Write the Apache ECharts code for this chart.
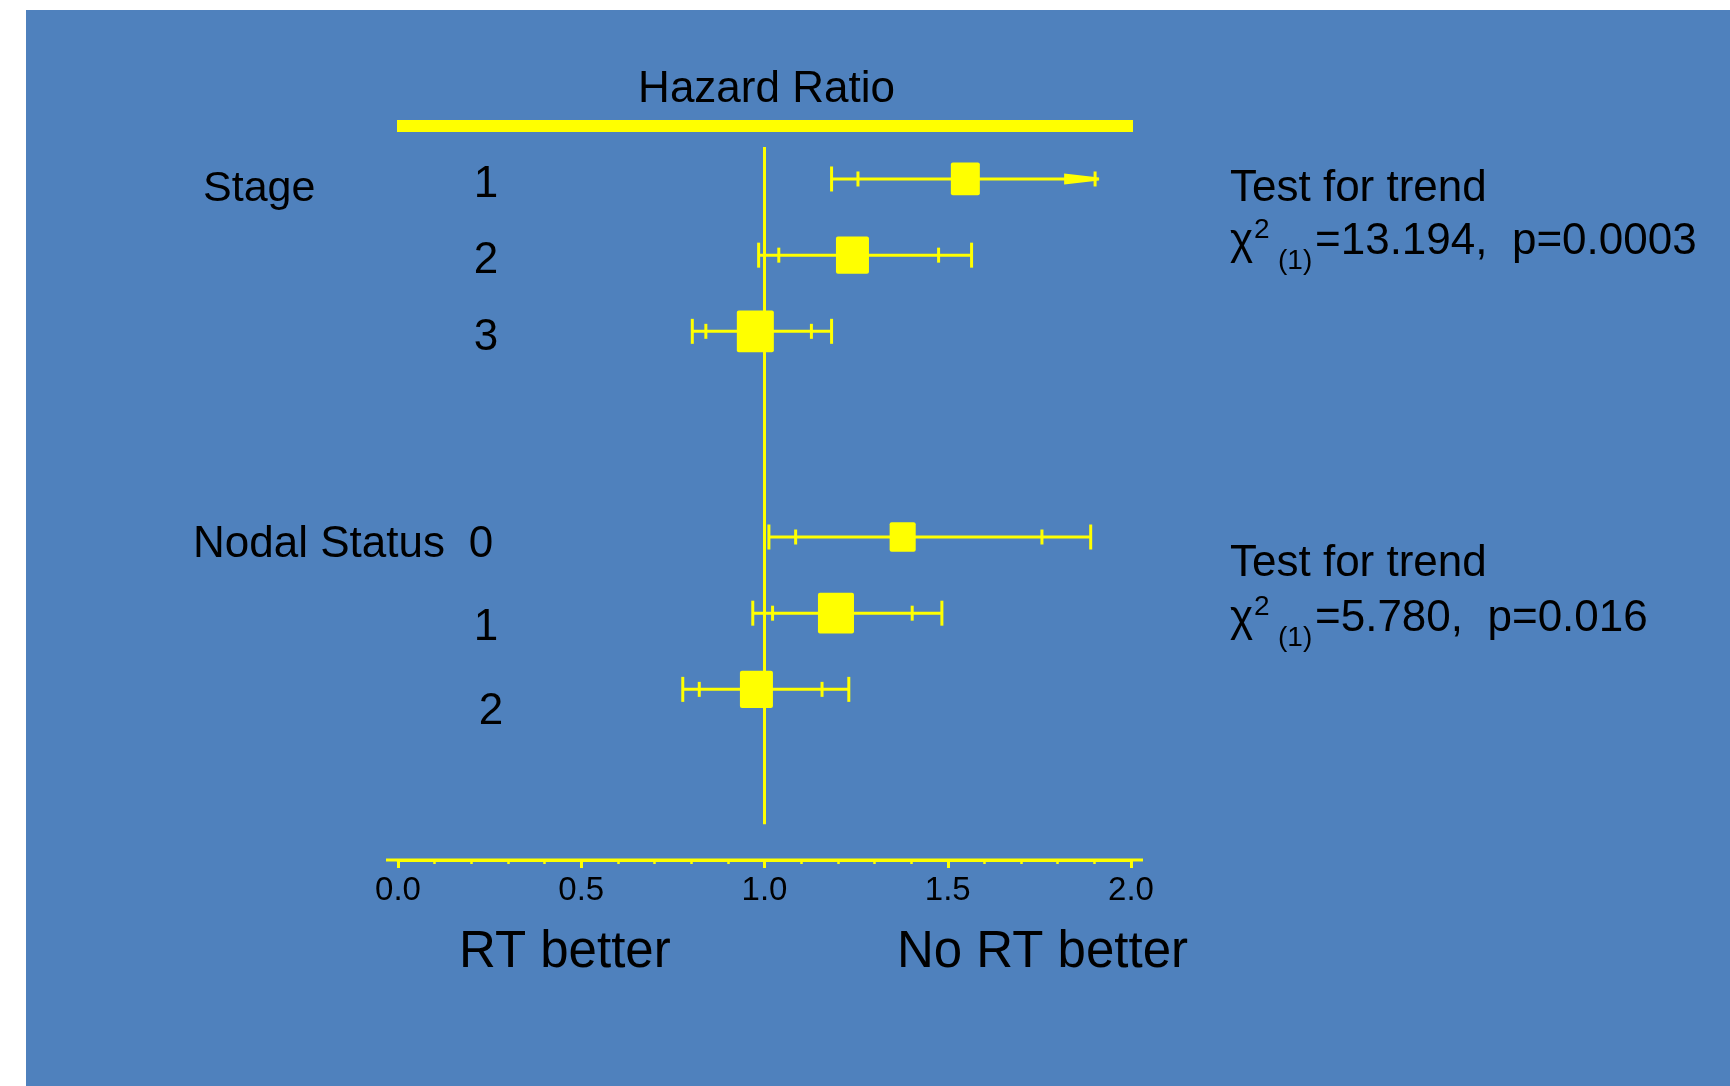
<!DOCTYPE html>
<html>
<head>
<meta charset="utf-8">
<title>Hazard Ratio</title>
<script src="https://cdn.jsdelivr.net/npm/echarts@6/dist/echarts.min.js"></script>
<style>
  html, body { margin: 0; padding: 0; background: #ffffff; }
  #chart { width: 1730px; height: 1086px; }
</style>
</head>
<body>
<div id="chart"></div>
<script>
// Subgroup hazard ratios (No RT vs RT) with 95% and 99% confidence limits
const groupNames = ['Stage', 'Nodal Status'];
const rowLabels = ['1', '2', '3', '0', '1', '2'];
const rowPos = [1, 2, 3, 5.7, 6.7, 7.7];
const hazardRatio = [1.548, 1.240, 0.975, 1.377, 1.195, 0.978];
const ci95Low  = [1.255, 1.039, 0.840, 1.085, 1.022, 0.822];
const ci95High = [1.902, 1.475, 1.128, 1.757, 1.403, 1.157];
const ci99Low  = [1.183, 0.984, 0.803, 1.012, 0.968, 0.777];
const ci99High = [null, 1.565, 1.183, 1.890, 1.484, 1.230];   // null: runs past the plotted range
const weights  = [8.4, 10.9, 13.7, 6.8, 13.0, 10.9];
const arrowLimit = 1.913;
const xTickLabels = ['0.0', '0.5', '1.0', '1.5', '2.0'];
const trendChi2 = ['13.194', '5.780'];
const trendP = ['0.0003', '0.016'];

const YELLOW = '#ffff00';
const BLUE = '#4f81bd';
const FONT = '"Liberation Sans", Arial, Helvetica, sans-serif';

function txt(text, x, y, size, align) {
  const a = align || 'left';
  return {
    type: 'text', x: x, y: y, z: 10,
    style: {
      text: text, fill: '#000000',
      font: size + 'px ' + FONT,
      align: a, verticalAlign: 'middle',
      textAlign: a, textVerticalAlign: 'middle'
    }
  };
}

const chart = echarts.init(document.getElementById('chart'), null, { renderer: 'canvas' });

const graphics = [
  { type: 'rect', z: -100, shape: { x: 26, y: 10, width: 1704, height: 1076 }, style: { fill: BLUE } },
  { type: 'rect', z: 5, shape: { x: 397, y: 120, width: 736, height: 12 }, style: { fill: YELLOW } },
  { type: 'rect', z: 5, shape: { x: 386, y: 858.5, width: 757, height: 3 }, style: { fill: YELLOW } },
  txt('Hazard Ratio', 766.5, 89.5, 44, 'center'),
  txt(groupNames[0], 203, 189, 43),
  txt(groupNames[1], 193, 544.5, 44),
  txt(rowLabels[0], 486, 185, 44, 'center'),
  txt(rowLabels[1], 486, 261, 44, 'center'),
  txt(rowLabels[2], 486, 338, 44, 'center'),
  txt(rowLabels[3], 481, 544.5, 44, 'center'),
  txt(rowLabels[4], 486, 628, 44, 'center'),
  txt(rowLabels[5], 491, 712, 44, 'center'),
  txt('RT better', 459, 952.5, 51),
  txt('No RT better', 897, 952.5, 51)
];

// Trend test annotations
const trendY = [188.5, 564];
const chiY = [241.5, 618.5];
for (let k = 0; k < 2; k++) {
  graphics.push(txt('Test for trend', 1230, trendY[k], 44));
  graphics.push(txt('\u03c7', 1230, chiY[k], 44));
  graphics.push(txt('2', 1254, chiY[k] - 11, 28));
  graphics.push(txt('(1)', 1278, chiY[k] + 19.5, 28));
  graphics.push(txt('=' + trendChi2[k] + ',  p=' + trendP[k], 1315, chiY[k], 44));
}

function vline(x, y, half) {
  return { type: 'line', shape: { x1: x, y1: y - half, x2: x, y2: y + half },
           style: { stroke: YELLOW, lineWidth: 3 } };
}

const option = {
  backgroundColor: 'transparent',
  animation: false,
  grid: { left: 398, right: 599, top: 102.8, bottom: 226, containLabel: false },
  xAxis: {
    type: 'value', position: 'bottom', min: 0, max: 2, interval: 0.5,
    axisLine: { show: true, onZero: false, lineStyle: { color: YELLOW, width: 3 } },
    axisTick: { show: true, length: 8, lineStyle: { color: YELLOW, width: 3 } },
    minorTick: { show: true, splitNumber: 5, length: 4, lineStyle: { color: YELLOW, width: 2.5 } },
    splitLine: { show: false },
    minorSplitLine: { show: false },
    axisLabel: {
      margin: 14, color: '#000000', fontSize: 33, fontFamily: FONT,
      formatter: function (v) { return xTickLabels[Math.round(v / 0.5)]; }
    }
  },
  yAxis: { type: 'value', inverse: true, min: 0, max: 9.94, show: false },
  graphic: graphics,
  series: [
    {
      // line of no effect at HR = 1
      type: 'line', z: 1, symbol: 'none', silent: true,
      lineStyle: { color: YELLOW, width: 3 },
      data: [[1, 0.58], [1, 9.47]]
    },
    {
      type: 'custom', z: 3, clip: false, silent: true,
      data: rowPos.map(function (y, i) { return [hazardRatio[i], y]; }),
      encode: { x: 0, y: 1 },
      renderItem: function (params, api) {
        const i = params.dataIndex;
        const yPx = api.coord([0, rowPos[i]])[1];
        const px = function (v) { return api.coord([v, rowPos[i]])[0]; };
        const open = ci99High[i] == null;
        const xLo = px(ci99Low[i]);
        const xTip = open ? px(arrowLimit) : px(ci99High[i]);
        const xEnd = open ? xTip - 30 : xTip;
        const kids = [];
        kids.push({ type: 'line', shape: { x1: xLo, y1: yPx, x2: xEnd, y2: yPx },
                    style: { stroke: YELLOW, lineWidth: 3 } });
        kids.push(vline(xLo, yPx, 12.5));
        if (!open) kids.push(vline(xTip, yPx, 12.5));
        kids.push(vline(px(ci95Low[i]), yPx, 7.5));
        kids.push(vline(px(ci95High[i]), yPx, 7.5));
        if (open) {
          kids.push({ type: 'polygon',
            shape: { points: [[xTip - 35, yPx - 5.5], [xTip, yPx - 1.5], [xTip, yPx + 1.5], [xTip - 35, yPx + 5.5]] },
            style: { fill: YELLOW } });
        }
        const w = 10 * Math.sqrt(weights[i]);
        const h = w * 1.13;
        kids.push({ type: 'rect',
          shape: { x: px(hazardRatio[i]) - w / 2, y: yPx - h / 2, width: w, height: h, r: 2 },
          style: { fill: YELLOW } });
        return { type: 'group', children: kids };
      }
    }
  ]
};

chart.setOption(option);
</script>
</body>
</html>
